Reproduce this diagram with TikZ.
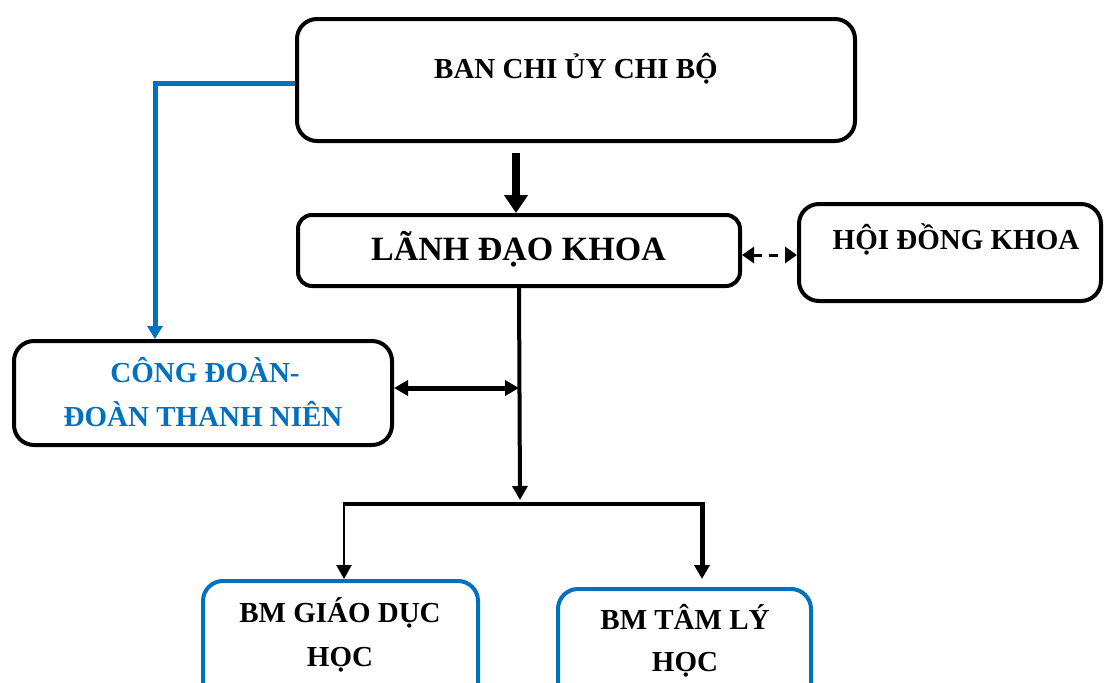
\documentclass[tikz,border=0pt]{standalone}
\usepackage{fontspec}
\setmainfont{Liberation Serif}
\usetikzlibrary{arrows.meta,calc}
\definecolor{vblue}{HTML}{0070C0}
\begin{document}
\begin{tikzpicture}[x=1pt,y=-1pt,
  boxk/.style={draw=black,line width=4pt,rounded corners=20pt,inner sep=0pt},
  boxb/.style={draw=vblue,line width=4pt,rounded corners=20pt,inner sep=0pt},
  txt/.style={anchor=base,inner sep=0pt,font=\fontsize{29}{35}\selectfont\bfseries},
  bigtxt/.style={anchor=base,inner sep=0pt,font=\fontsize{34}{40}\selectfont\bfseries},
  tipa/.style={-{Triangle[width=15pt,length=14pt]}},
  conn/.style={line width=4pt,draw=black}
]
\useasboundingbox (0,0) rectangle (1104,683);
\clip (0,0) rectangle (1104,683);
\fill[white] (0,0) rectangle (1104,683);

% boxes
\node[boxk,minimum width=558pt,minimum height=122pt] (ban) at (576,80) {};
\node[boxk,minimum width=442pt,minimum height=71pt,rounded corners=14pt] (lanh) at (519,250.5) {};
\node[boxk,minimum width=302pt,minimum height=97pt] (hoi) at (950,252.5) {};
\node[boxk,minimum width=378pt,minimum height=104pt] (cd) at (203,393) {};
\node[boxb,minimum width=275pt,minimum height=139pt] (gd) at (340.5,650.5) {};
\node[boxb,minimum width=253pt,minimum height=131pt] (tl) at (684.5,654.5) {};

% texts
\node[txt] (bant) at (576,78) {BAN CHI ỦY CHI BỘ};
\node[bigtxt] (lanht) at (518.5,260) {LÃNH ĐẠO KHOA};
\node[txt] (hoit) at (956,249.5) {HỘI ĐỒNG KHOA};
\node[txt,text=vblue] (cdt1) at (205,382.5) {CÔNG ĐOÀN-};
\node[txt,text=vblue] (cdt2) at (203,426.5) {ĐOÀN THANH NIÊN};
\node[txt] (gdt1) at (340,622.5) {BM GIÁO DỤC};
\node[txt] (gdt2) at (340,666.5) {HỌC};
\node[txt] (tlt1) at (685,629.5) {BM TÂM LÝ};
\node[txt] (tlt2) at (685,671.5) {HỌC};

% helper coordinates
\coordinate (mid) at (519,388);
\coordinate (bartop) at (520,500);
\coordinate (bl) at (344,504);
\coordinate (br) at (702,504);
\coordinate (bend) at (155,83);

% BAN -> LANH (thick)
\draw[line width=8pt,-{Triangle[width=23pt,length=18pt]}]
  ([yshift=-10pt]ban.south -| 516,0) -- (lanh.north -| 516,0);

% BAN -> CONG DOAN (blue)
\draw[vblue,line width=5pt,line join=miter,-{Triangle[width=15pt,length=13pt]}]
  (ban.west |- bend) -- (bend) -- (cd.north -| bend);

% LANH <-> HOI (dashed)
\draw[line width=3pt,dash pattern=on 9pt off 7pt,
  {Triangle[width=16pt,length=12pt]}-{Triangle[width=16pt,length=12pt]}]
  (lanh.east |- 0,255) -- (hoi.west |- 0,255);

% LANH -> bar
\draw[conn,tipa] (lanh.south -| mid) -- (bartop);

% CONG DOAN <-> vertical
\draw[line width=5pt,{Triangle[width=15pt,length=14pt]}-{Triangle[width=15pt,length=14pt]}]
  (cd.east |- mid) -- (mid);

% bar and branches
\draw[line width=4.5pt] (bl) -- ([xshift=2pt]br);
\draw[line width=2.3pt,tipa] ([yshift=2pt]bl) -- (gd.north -| bl);
\draw[line width=5pt,tipa] ([yshift=2pt]br) -- ([yshift=8pt]tl.north -| br);
\end{tikzpicture}
\end{document}
